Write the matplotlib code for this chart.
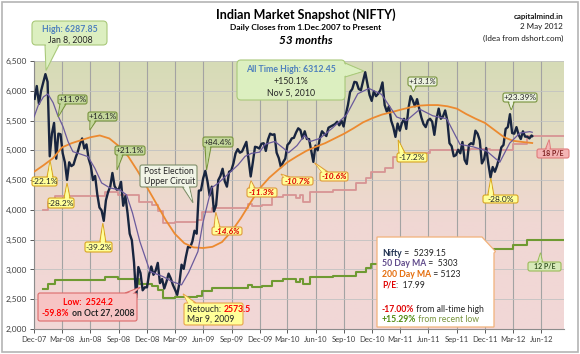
import numpy as np
import pandas as pd
import matplotlib
matplotlib.use("Agg")
import matplotlib.pyplot as plt
import matplotlib.dates as mdates
from matplotlib.patches import FancyBboxPatch, Polygon, Rectangle
from matplotlib.transforms import IdentityTransform
from matplotlib.colors import LinearSegmentedColormap
from matplotlib.font_manager import FontProperties

plt.rcParams['font.family'] = ['Lato', 'DejaVu Sans']

W, H = 580, 354

# ---- data -------------------------------------------------------------
# Nifty weekly closes (Mondays), Dec 2007 .. Apr 2012, plus 2 May 2012
nifty_close = [
    5865, 6080, 5780, 6000, 6138,          # Dec-07
    6280, 6150, 4900, 5280,                # Jan-08
    5460, 4860, 5280, 5270,                # Feb
    4950, 4800, 4503, 4800, 4735,          # Mar
    4760, 4880, 4980, 5110,                # Apr
    5200, 5030, 5100, 4860,                # May
    4740, 4500, 4570, 4260, 4040,          # Jun
    3990, 3816, 4160, 4300,                # Jul
    4390, 4620, 4400, 4340,                # Aug
    4350, 4470, 4070, 4230, 3950,          # Sep
    3600, 3490, 3120, 2524,                # Oct
    3040, 2940, 2650, 2700,                # Nov
    2700, 2920, 3050, 2910, 2980,          # Dec-08
    3110, 2770, 2840, 2680,                # Jan-09
    2790, 2930, 2850, 2740,                # Feb
    2660, 2573, 2770, 3080, 3010,          # Mar
    3210, 3380, 3370, 3470,                # Apr
    3650, 3600, 4323, 4330,                # May
    4530, 4655, 4480, 4240, 4390,          # Jun
    3975, 4080, 4500, 4570,                # Jul
    4690, 4480, 4390, 4640, 4660,          # Aug
    4780, 4950, 5020, 4960,                # Sep
    4980, 5060, 5142, 4850,                # Oct
    4561, 4800, 5060, 5050, 5030,          # Nov
    5110, 5120, 4990, 5180,                # Dec-09
    5280, 5260, 5270, 4960,                # Jan-10
    4870, 4718, 4800, 4860,                # Feb
    5090, 5130, 5200, 5210, 5300,          # Mar
    5370, 5340, 5200, 5320,                # Apr
    5190, 5190, 5000, 4806, 5080,          # May
    5000, 5200, 5320, 5280,                # Jun
    5240, 5380, 5400, 5420,                # Jul
    5440, 5480, 5420, 5500, 5400,          # Aug
    5600, 5760, 5980, 6030,                # Sep
    6150, 6140, 6030, 6010,                # Oct
    6160, 6312, 6120, 5930, 5830,          # Nov
    5990, 5910, 5950, 6010,                # Dec-10
    6140, 5760, 5650, 5740, 5500,          # Jan-11
    5390, 5226, 5450, 5330,                # Feb
    5460, 5530, 5360, 5700,                # Mar
    5910, 5840, 5740, 5860,                # Apr
    5700, 5550, 5440, 5390, 5500,          # May
    5530, 5480, 5260, 5530,                # Jun
    5700, 5530, 5570, 5670,                # Jul
    5500, 5120, 5070, 4900, 4920,          # Aug
    5010, 4950, 5140, 4840,                # Sep
    4770, 5090, 5120, 5100, 5330,          # Oct
    5280, 5170, 4780, 4850,                # Nov
    5040, 4770, 4545, 4720,                # Dec-11
    4640, 4740, 4880, 5050, 5090,          # Jan-12
    5360, 5390, 5607, 5290,                # Feb
    5280, 5390, 5260, 5190,                # Mar
    5320, 5230, 5230, 5200, 5250,          # Apr
    5239.15,                               # 2 May 2012
]
nifty_dates = list(pd.date_range("2007-12-03", "2012-04-30", freq="W-MON")) + [pd.Timestamp("2012-05-02")]

ma50_dates = ["2007-12-01", "2007-12-15", "2008-01-01", "2008-01-15", "2008-02-01", "2008-02-15",
              "2008-03-04", "2008-03-20", "2008-04-05", "2008-04-28", "2008-05-24", "2008-06-15",
              "2008-07-07", "2008-08-03", "2008-09-04", "2008-09-26", "2008-10-15", "2008-11-08",
              "2008-12-11", "2009-01-22", "2009-02-20", "2009-03-23", "2009-04-15", "2009-05-15",
              "2009-05-31", "2009-06-28", "2009-07-20", "2009-08-10", "2009-09-22", "2009-10-15",
              "2009-11-05", "2009-12-01", "2009-12-18", "2010-01-19", "2010-02-15", "2010-03-05",
              "2010-04-01", "2010-04-25", "2010-05-13", "2010-06-14", "2010-07-26", "2010-09-09",
              "2010-10-15", "2010-11-20", "2010-12-31", "2011-02-18", "2011-03-22", "2011-05-04",
              "2011-06-15", "2011-07-30", "2011-09-11", "2011-10-23", "2011-12-06", "2012-01-18",
              "2012-02-19", "2012-03-23", "2012-04-24", "2012-05-02"]
ma50 = [5560, 5760, 5900, 5946, 5800, 5600,
        5398, 5150, 4978, 4940, 4894, 4700,
        4453, 4369, 4335, 4251, 3950, 3468,
        2965, 2880, 2797, 2741, 2950, 3300,
        3780, 4369, 4450, 4550, 4755, 4900,
        4950, 4970, 5100, 5150, 5040, 4960,
        5080, 5250, 5147, 5200, 5380, 5600,
        5950, 6040, 5940, 5560, 5500, 5690,
        5580, 5530, 5100, 5060, 4990, 4800,
        5120, 5290, 5314, 5303]

ma200_dates = ["2007-12-01", "2008-01-01", "2008-02-01", "2008-03-01", "2008-04-01", "2008-05-01",
               "2008-06-01", "2008-07-01", "2008-08-01", "2008-09-01", "2008-10-01", "2008-11-01",
               "2008-12-01", "2009-01-01", "2009-02-01", "2009-03-01", "2009-04-01", "2009-05-01",
               "2009-06-01", "2009-07-01", "2009-08-01", "2009-09-01", "2009-10-01", "2009-11-01",
               "2009-12-01", "2010-01-01", "2010-02-01", "2010-03-01", "2010-04-01", "2010-05-01",
               "2010-06-01", "2010-07-01", "2010-08-01", "2010-09-01", "2010-10-01", "2010-11-01",
               "2010-12-01", "2011-01-01", "2011-02-01", "2011-03-01", "2011-04-01", "2011-05-01",
               "2011-06-01", "2011-07-01", "2011-08-01", "2011-09-01", "2011-10-01", "2011-11-01",
               "2011-12-01", "2012-01-01", "2012-02-01", "2012-03-01", "2012-04-01", "2012-05-02"]
ma200 = [4640, 4750, 4870, 5050, 5120, 5170,
         5220, 5250, 5200, 5070, 4900, 4650,
         4380, 4100, 3820, 3600, 3440, 3370,
         3360, 3380, 3460, 3640, 3860, 4120,
         4360, 4540, 4680, 4800, 4900, 4990,
         5060, 5120, 5200, 5280, 5370, 5470,
         5540, 5600, 5640, 5680, 5720, 5750,
         5760, 5760, 5740, 5700, 5610, 5530,
         5460, 5340, 5220, 5160, 5140, 5123]

# trailing EPS steps behind the 18x and 12x P/E bands
pe_dates = ["2007-12-29", "2008-01-15", "2008-02-07", "2008-07-18", "2008-08-29", "2008-11-05",
            "2008-12-17", "2009-01-06", "2009-01-22", "2009-03-02", "2009-05-12", "2009-05-28",
            "2009-06-29", "2009-10-24", "2009-11-05", "2009-12-08", "2010-01-10", "2010-02-14",
            "2010-03-29", "2010-04-10", "2010-04-20", "2010-05-13", "2010-07-26", "2010-10-09",
            "2010-11-10", "2010-11-26", "2011-01-11", "2011-02-06", "2011-02-28", "2011-04-11",
            "2011-06-06", "2011-10-13", "2011-12-17", "2012-03-01", "2012-04-15", "2012-08-13"]
eps = [222, 230, 235, 239, 236, 230,
       227, 221, 210, 211, 213, 220,
       224, 228, 226, 227, 234, 236,
       233, 236, 230, 239, 241, 247,
       252, 258, 261, 272, 273, 275,
       278, 279, 278, 284, 291, 291]

xticks = pd.date_range("2007-12-01", "2012-06-01", freq="3MS")
yticks = list(range(2000, 6501, 500))

# ---- figure ----------------------------------------------------------
fig = plt.figure(figsize=(W / 100, H / 100), dpi=100)
ax = fig.add_axes([34 / W, 1 - 329 / H, 530 / W, 268 / H])

bg = LinearSegmentedColormap.from_list("bg", [(0, "#f2d7d7"), (0.4, "#f0d7d3"), (0.58, "#eadac8"),
                                              (0.8, "#dfdcbf"), (1, "#d6dbb6")])
ax.imshow(np.linspace(0, 1, 256).reshape(-1, 1), cmap=bg, origin="lower", extent=[0, 1, 0, 1],
          transform=ax.transAxes, aspect="auto", zorder=-1)

pe_d = pd.to_datetime(pe_dates)
ax.plot(pe_d, np.array(eps) * 18, drawstyle="steps-post", color="#d79494", lw=1.3, zorder=2)
ax.plot(pe_d, np.array(eps) * 12, drawstyle="steps-post", color="#6f9a32", lw=1.5, zorder=2)
ax.plot(pd.to_datetime(ma200_dates), ma200, color="#ec8a30", lw=1.3, zorder=4)
ax.plot(nifty_dates, nifty_close, color="#18253f", lw=1.7, zorder=3)
ax.plot(pd.to_datetime(ma50_dates), ma50, color="#6a5a9c", lw=0.9, zorder=4)

ax.set_xlim(pd.Timestamp("2007-12-01"), pd.Timestamp("2012-08-13"))
ax.set_ylim(2000, 6500)
ax.set_xticks(xticks)
ax.xaxis.set_major_formatter(mdates.DateFormatter("%b-%y"))
ax.set_yticks(yticks)
ax.set_yticklabels([f"{v:,}" for v in yticks])
ax.tick_params(labelsize=5.5, colors="#404040", length=3, width=0.6, pad=2)
ax.tick_params(axis="y", labelsize=6)
ax.set_axisbelow(True)
ax.grid(axis="x", color="#a3a3a3", lw=0.8)
ax.grid(axis="y", color="#c2c2c2", lw=0.6)
for s in ["top", "right"]:
    ax.spines[s].set_visible(False)
for s in ["left", "bottom"]:
    ax.spines[s].set_color("#8c8c8c")
    ax.spines[s].set_linewidth(0.8)

# ---- helpers (pixel coords, origin top-left) --------------------------
ID = IdentityTransform()
renderer = fig.canvas.get_renderer()


def to_px(d, v):
    x, y = ax.transData.transform((mdates.date2num(pd.Timestamp(d)), v))
    return x, H - y


def text_w(s, size, weight="normal", style="normal"):
    fp = FontProperties(family=["Lato", "DejaVu Sans"], size=size, weight=weight, style=style)
    a = renderer.get_text_width_height_descent("|" + s + "|", fp, False)[0]
    b = renderer.get_text_width_height_descent("||", fp, False)[0]
    return a - b


def rich(x, y, parts, size=6, ha="left"):
    total = sum(text_w(p[0], size, p[2] if len(p) > 2 else "normal",
                       p[3] if len(p) > 3 else "normal") for p in parts)
    cur = x - total / 2 if ha == "center" else x
    for p in parts:
        s, c = p[0], p[1]
        w = p[2] if len(p) > 2 else "normal"
        st = p[3] if len(p) > 3 else "normal"
        fig.text(cur, H - y, s, transform=ID, fontsize=size, color=c, fontweight=w,
                 fontstyle=st, ha="left", va="center", zorder=30)
        cur += text_w(s, size, w, st)


def callout(box, tip, fc, ec, bw=6, side=None, bc=None, r=2, lw=0.8):
    x0, y0, x1, y1 = box
    tx, ty = to_px(*tip)
    if side is None:
        side = "bottom" if ty > y1 else "top" if ty < y0 else "left" if tx < x0 else "right"
    if side in ("top", "bottom"):
        yy = y1 if side == "bottom" else y0
        c = bc if bc is not None else min(max(tx, x0 + bw / 2 + r), x1 - bw / 2 - r)
        b1, b2 = (c - bw / 2, yy), (c + bw / 2, yy)
        inward = (0, -1.2) if side == "bottom" else (0, 1.2)
        along = (1, 0)
    else:
        xx = x0 if side == "left" else x1
        c = bc if bc is not None else min(max(ty, y0 + bw / 2 + r), y1 - bw / 2 - r)
        b1, b2 = (xx, c - bw / 2), (xx, c + bw / 2)
        inward = (1.2, 0) if side == "left" else (-1.2, 0)
        along = (0, 1)
    flip = lambda p: (p[0], H - p[1])
    tri = Polygon([flip(b1), flip((tx, ty)), flip(b2)], closed=True, transform=ID,
                  fc=fc, ec=ec, lw=lw, zorder=20, joinstyle="miter")
    fig.add_artist(tri)
    fig.add_artist(FancyBboxPatch((x0, H - y1), x1 - x0, y1 - y0,
                                  boxstyle=f"round,pad=0,rounding_size={r}", transform=ID,
                                  fc=fc, ec=ec, lw=lw, zorder=21))
    mx, my = (b1[0] + b2[0]) / 2, (b1[1] + b2[1]) / 2
    k = 0.12
    cov = [(b1[0] + inward[0] + along[0] * 0.8, b1[1] + inward[1] + along[1] * 0.8),
           (tx + (mx - tx) * k, ty + (my - ty) * k),
           (b2[0] + inward[0] - along[0] * 0.8, b2[1] + inward[1] - along[1] * 0.8)]
    fig.add_artist(Polygon([flip(p) for p in cov], closed=True, transform=ID, fc=fc,
                           ec="none", zorder=22))


GREEN_FC, GREEN_EC = "#c3d69b", "#77933c"
LGREEN_FC = "#ebf1de"
YEL_FC, YEL_EC = "#ffff99", "#d9a520"
DARK = "#262626"
RED = "#e00000"

# gains (green)
for box, tip, lab, st, fc in [
    ((58, 95, 87, 104), ("2008-02-17", 5560), "+11.9%", "normal", GREEN_FC),
    ((88, 112, 117, 121), ("2008-05-30", 5342), "+16.1%", "normal", GREEN_FC),
    ((115, 146, 145, 155), ("2008-08-26", 4671), "+21.1%", "normal", GREEN_FC),
    ((203, 137, 233, 147), ("2009-06-12", 4670), "+84.4%", "normal", GREEN_FC),
    ((408, 77, 437, 86), ("2011-04-13", 5985), "+13.1%", "italic", LGREEN_FC),
    ((503, 93, 537, 102), ("2012-02-24", 5680), "+23.39%", "normal", LGREEN_FC),
]:
    callout(box, tip, fc, GREEN_EC)
    rich((box[0] + box[2]) / 2, (box[1] + box[3]) / 2 + 0.3, [(lab, DARK, "normal", st)], 6, "center")

# drawdowns (yellow)
for box, tip, lab, red in [
    ((32, 177, 57, 186), ("2008-01-22", 4822), "-22.1%", False),
    ((48, 198, 74, 208), ("2008-03-17", 4448), "-28.2%", False),
    ((85, 242, 112, 252), ("2008-07-11", 3776), "-39.2%", False),
    ((212, 227, 242, 235), ("2009-07-12", 3960), "-14.6%", True),
    ((247, 188, 277, 197), ("2009-11-03", 4490), "-11.3%", True),
    ((282, 177, 313, 185), ("2010-02-08", 4600), "-10.7%", True),
    ((320, 172, 348, 181), ("2010-05-28", 4790), "-10.6%", True),
    ((397, 153, 427, 162), ("2011-02-23", 5175), "-17.2%", False),
    ((483, 195, 518, 203), ("2011-12-20", 4530), "-28.0%", False),
]:
    callout(box, tip, YEL_FC, "#e09a3a" if red else YEL_EC)
    if red:
        parts = [(lab, RED, "bold", "italic")]
    else:
        parts = [(lab, DARK)]
    rich((box[0] + box[2]) / 2, (box[1] + box[3]) / 2 + 0.3, parts, 6, "center")

# highs
callout((32, 21, 107, 45), ("2008-01-09", 6340), "#dcefc0", "#a9c97a", bw=14, bc=52, r=4)
rich(70, 29.5, [("High: 6287.85", "#4f81bd", "bold")], 6.3, "center")
rich(70, 40.5, [("Jan 8, 2008", DARK)], 6.3, "center")

callout((237, 60, 345, 100), ("2010-11-04", 6330), "#dcefc0", "#a9c97a", bw=14, side="right", bc=70, r=4)
rich(291, 70, [("All Time High: 6312.45", "#4f81bd", "bold")], 6.3, "center")
rich(291, 81.5, [("+150.1%", DARK)], 6.3, "center")
rich(291, 93, [("Nov 5, 2010", DARK)], 6.3, "center")

# post election
callout((140, 165, 197, 187), ("2009-04-29", 4120), "#f1f4e6", "#7f8f6a", bw=7, bc=186)
rich(144, 171, [("Post Election", DARK)], 6.2)
rich(144, 181.5, [("Upper Circuit", DARK)], 6.2)

# low / retouch
callout((38, 293, 137, 321), ("2008-11-09", 2700), "#f7c4c4", "#dc6b6b", bw=8, side="top", bc=129)
rich(88, 302.5, [("Low:  2524.2", "#ff0000", "bold")], 6.2, "center")
rich(88, 313.5, [("-59.8%", "#ff0000", "bold"), (" on Oct 27, 2008", DARK, "bold")], 6.2, "center")

callout((184, 303, 243, 325), ("2009-03-28", 2590), YEL_FC, "#e8a54a", bw=8, side="top", bc=192)
rich(187, 309, [("Retouch: ", DARK), ("2573.5", "#ff0000", "bold")], 6.2)
rich(187, 319.5, [("Mar 9, 2009", DARK)], 6.2)

# P/E tags
callout((537, 149, 569, 158), ("2012-06-26", 5180), "#f4b5b5", "#e07b7b", bw=5, bc=548)
rich(553, 154, [("18 P/E", "#7f2020", "bold")], 5, "center")
callout((528, 262, 561, 271), ("2012-05-29", 3280), "#d7e9b9", "#9bbb59", bw=5, bc=540)
rich(544.5, 266.5, [("12 P/E", "#375623", "bold")], 5, "center")

# summary box
info = Polygon([(377, H - 237), (482, H - 237), (495.5, H - 251.5), (494, H - 253),
                (494, H - 327), (377, H - 327)], closed=True, transform=ID,
               fc="white", ec="#f2b27a", lw=0.9, zorder=20)
fig.add_artist(info)
rich(382, 253, [("Nifty", "#1f3050", "bold"), (" =  5239.15", DARK)], 6.2)
rich(382, 264, [("50 Day MA", "#604a8b", "bold"), (" =  5303", DARK)], 6.2)
rich(382, 274.5, [("200 Day MA", "#e46c0a", "bold"), (" = 5123", DARK)], 6.2)
rich(382, 285.5, [("P/E", "#e00000", "bold"), (":  17.99", DARK)], 6.2)
rich(382, 309, [("-17.00%", "#e00000", "bold"), (" from all-time high", DARK)], 6.2)
rich(382, 319.5, [("+15.29%", "#4f8a10", "bold"), (" from recent low", "#77933c")], 6.2)

# titles
rich(306, 15, [("Indian Market Snapshot (NIFTY)", "black", "bold")], 9, "center")
rich(306, 27.5, [("Daily Closes from 1.Dec.2007 to Present", "black", "bold")], 6, "center")
rich(306, 40.5, [("53 months", "black", "bold", "italic")], 8.5, "center")
fig.text(563, H - 16, "capitalmind.in", transform=ID, fontsize=5.8, fontweight="bold",
         ha="right", va="center", color="#1a1a1a")
fig.text(563, H - 27, "2 May 2012", transform=ID, fontsize=5.8, ha="right", va="center", color="#1a1a1a")
fig.text(563, H - 38, "(Idea from dshort.com)", transform=ID, fontsize=5.8, ha="right", va="center",
         color="#1a1a1a")

fig.add_artist(Rectangle((1.5, 2.5), W - 4, H - 4, transform=ID, fc="none", ec="#b4b4b4", lw=1.2, zorder=40))

fig.savefig("out.png", dpi=100, facecolor="white")
